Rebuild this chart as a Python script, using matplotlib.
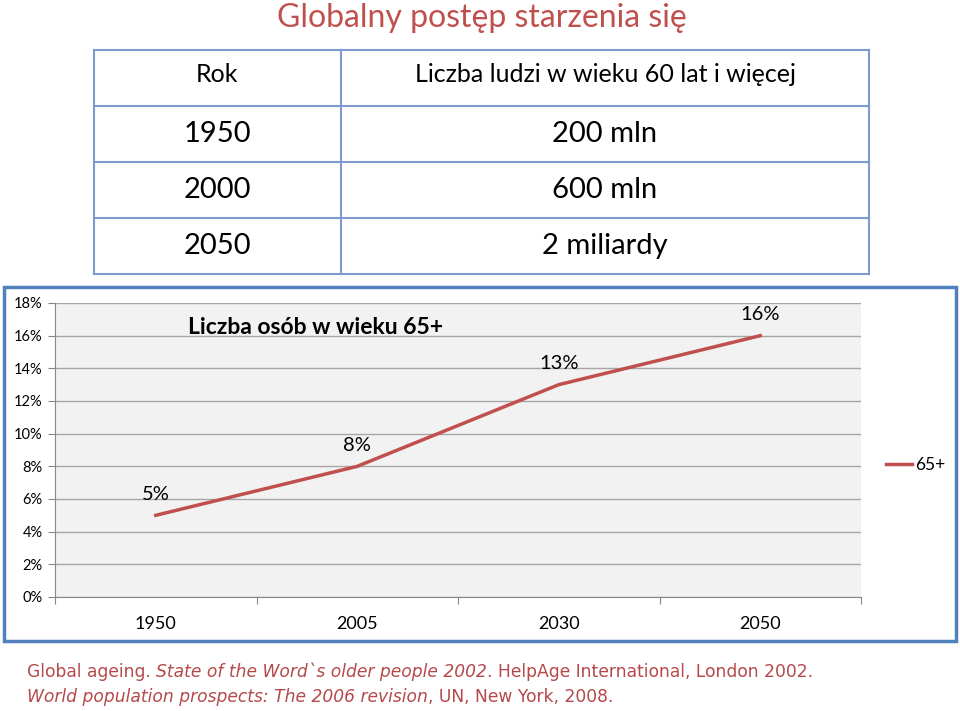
import matplotlib.pyplot as plt
from matplotlib.patches import Rectangle
from matplotlib.lines import Line2D
from matplotlib.offsetbox import TextArea, HPacker, AnnotationBbox

# data
table_header = ["Rok", "Liczba ludzi w wieku 60 lat i więcej"]
table_years = ["1950", "2000", "2050"]
table_counts = ["200 mln", "600 mln", "2 miliardy"]

years = ["1950", "2005", "2030", "2050"]
share_65 = [5, 8, 13, 16]
series_name = "65+"

red = "#C0504D"
blue = "#4F81BD"
font = "Lato"

fig = plt.figure(figsize=(9.6, 7.11), dpi=100)

# overlay in pixel coords for table, frame and texts
ov = fig.add_axes([0, 0, 1, 1])
ov.set_xlim(0, 960)
ov.set_ylim(711, 0)
ov.axis("off")

ov.text(482, 18, "Globalny postęp starzenia się", color=red, fontsize=23,
        family=font, ha="center", va="center")

# table
row_y = [50, 106, 162, 218, 274]
col_x = [94, 341, 869]
tcol = "#7F9ACF"
for y in row_y:
    ov.plot([col_x[0], col_x[-1]], [y, y], color=tcol, lw=1.5)
for x in col_x:
    ov.plot([x, x], [row_y[0], row_y[-1]], color=tcol, lw=1.5)
ov.text(217, 74, table_header[0], fontsize=18, family=font, ha="center", va="center")
ov.text(605, 74, table_header[1], fontsize=18, family=font, ha="center", va="center")
for i in range(len(table_years)):
    yc = (row_y[i + 1] + row_y[i + 2]) / 2
    ov.text(217, yc, table_years[i], fontsize=21, family=font, ha="center", va="center")
    ov.text(605, yc, table_counts[i], fontsize=21, family=font, ha="center", va="center")

# chart frame
ov.add_patch(Rectangle((4, 287), 952, 354, facecolor="white", edgecolor=blue, lw=2.5))

# main chart
ax = fig.add_axes([55 / 960, (711 - 597) / 711, 806 / 960, 294 / 711])
ax.set_facecolor("#F2F2F2")
x = list(range(len(years)))
ax.plot(x, share_65, color=red, lw=2.5, label=series_name, zorder=3)
for xi, v in zip(x, share_65):
    ax.annotate(f"{v}%", (xi, v), xytext=(0, 9), textcoords="offset points",
                ha="center", va="bottom", fontsize=14.5, family=font)

ax.set_xlim(-0.5, len(years) - 0.5)
ax.set_ylim(0, 18)
ax.set_yticks(range(0, 19, 2))
ax.set_yticklabels([f"{t}%" for t in range(0, 19, 2)], fontsize=10.5, family=font)
ax.set_xticks([i - 0.5 for i in range(len(years) + 1)])
ax.set_xticklabels([])
ax.set_xticks(x, minor=True)
ax.set_xticklabels(years, minor=True, fontsize=13, family=font)
ax.tick_params(axis="x", which="minor", length=0, pad=14)
ax.tick_params(axis="x", which="major", length=5, color="#888888")
ax.tick_params(axis="y", length=5, color="#888888", pad=4)
ax.grid(axis="y", color="#A6A6A6", lw=1)
ax.set_axisbelow(True)
for s in ["top", "right"]:
    ax.spines[s].set_visible(False)
for s in ["left", "bottom"]:
    ax.spines[s].set_color("#888888")

ax.text(316 / 960, 1 - 328 / 711, "Liczba osób w wieku 65+", transform=fig.transFigure,
        fontsize=16.5, fontweight="bold", family=font, ha="center", va="center")

fig.legend(handles=[Line2D([], [], color=red, lw=2.5)], labels=[series_name],
           loc="center left", bbox_to_anchor=(870 / 960, 1 - 465 / 711),
           frameon=False, handlelength=1.5, handletextpad=0.2,
           prop={"family": font, "size": 12.5})

# footer with mixed italic
fcol = "#B5494B"
def footer(parts, ypix):
    boxes = [TextArea(t, textprops=dict(color=fcol, fontsize=12.3, family="DejaVu Sans",
                                         style="italic" if it else "normal"))
             for t, it in parts]
    pack = HPacker(children=boxes, pad=0, sep=0, align="baseline")
    ab = AnnotationBbox(pack, (27, ypix), xycoords="data", box_alignment=(0, 0.5),
                        frameon=False, pad=0)
    ov.add_artist(ab)

footer([("Global ageing. ", False), ("State of the Word`s older people 2002", True),
        (". HelpAge International, London 2002.", False)], 672)
footer([("World population prospects: The 2006 revision", True),
        (", UN, New York, 2008.", False)], 697)

fig.savefig("out.png", dpi=100)
